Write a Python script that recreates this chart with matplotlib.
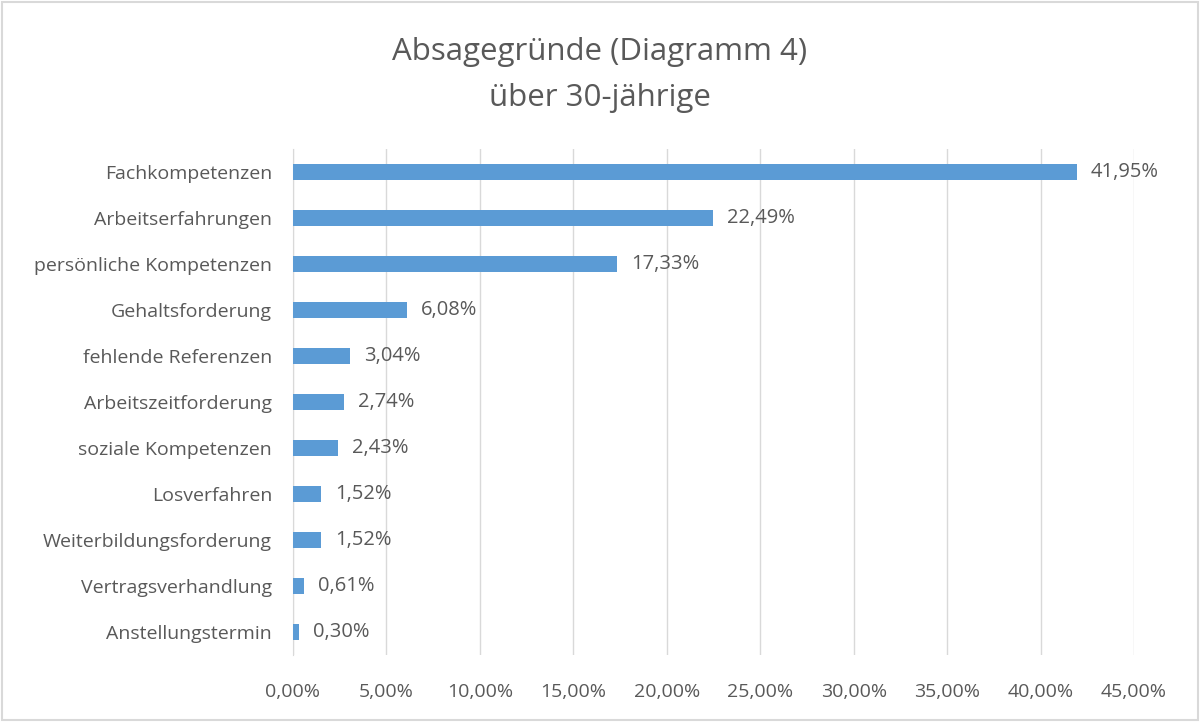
import matplotlib.pyplot as plt
from matplotlib.ticker import FuncFormatter

# Absagegründe, von oben nach unten
gruende = ['Fachkompetenzen', 'Arbeitserfahrungen', 'persönliche Kompetenzen',
           'Gehaltsforderung', 'fehlende Referenzen', 'Arbeitszeitforderung',
           'soziale Kompetenzen', 'Losverfahren', 'Weiterbildungsforderung',
           'Vertragsverhandlung', 'Anstellungstermin']
anteile = [41.95, 22.49, 17.33, 6.08, 3.04, 2.74, 2.43, 1.52, 1.52, 0.61, 0.30]
xticks = [0, 5, 10, 15, 20, 25, 30, 35, 40, 45]

grau = '#595959'
blau = '#5B9BD5'

plt.rcParams['font.family'] = ['Open Sans', 'DejaVu Sans']

fig = plt.figure(figsize=(12, 7.22), dpi=100)
ax = fig.add_axes([293/1200, 1 - 655/722, 841/1200, 506/722])

pos = list(range(len(gruende)))
ax.barh(pos, anteile, height=0.35, color=blau, zorder=3)
ax.set_ylim(len(gruende) - 0.5, -0.5)
ax.set_xlim(0, 45)
ax.set_yticks(pos)
ax.set_yticklabels(gruende)
ax.set_xticks(xticks)
ax.xaxis.set_major_formatter(FuncFormatter(lambda v, p: f'{v:.2f}%'.replace('.', ',')))

for i, v in enumerate(anteile):
    ax.text(v + 0.75, i, f'{v:.2f}%'.replace('.', ','), va='center', ha='left',
            fontsize=14.5, color=grau)

ax.grid(axis='x', color='#D9D9D9', linewidth=1, zorder=0)
for s in ['top', 'right', 'bottom']:
    ax.spines[s].set_visible(False)
ax.spines['left'].set_color('#D9D9D9')
ax.tick_params(axis='both', length=0, labelsize=14, labelcolor=grau)
ax.tick_params(axis='y', pad=15)
ax.tick_params(axis='x', pad=20)

fig.text(0.5, 1 - 52/722, 'Absagegründe (Diagramm 4)', ha='center', va='center',
         fontsize=22.5, color=grau)
fig.text(0.5, 1 - 98/722, 'über 30-jährige', ha='center', va='center',
         fontsize=22.5, color=grau)

# Rahmen
fig.patches.append(plt.Rectangle((0.002, 0.003), 0.996, 0.994, transform=fig.transFigure,
                                 fill=False, edgecolor='#D9D9D9', linewidth=1.5))

fig.savefig('out.png', dpi=100, facecolor='white')
